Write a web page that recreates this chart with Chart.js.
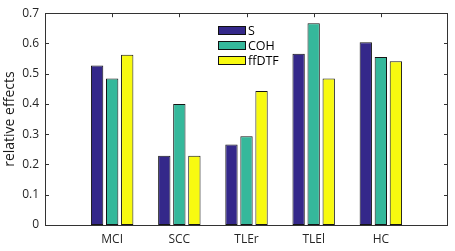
<!DOCTYPE html>
<html>
<head>
<meta charset="utf-8">
<script src="https://cdn.jsdelivr.net/npm/chart.js@4/dist/chart.umd.min.js"></script>
<style>
  html, body { margin: 0; padding: 0; background: #fff; }
  #wrap { position: relative; width: 455px; height: 251px; }
  #legend { position: absolute; left: 218px; top: 23px; font-family: "Open Sans", sans-serif; font-size: 12.5px; color: #000; }
  #legend .row { display: flex; align-items: center; height: 15px; }
  #legend .sw { width: 26px; height: 7px; border: 1px solid #111; margin-right: 2px; }
</style>
</head>
<body>
<div id="wrap">
  <canvas id="c" width="455" height="251"></canvas>
  <div id="legend"></div>
</div>
<script>
const categories = ['MCI', 'SCC', 'TLEr', 'TLEl', 'HC'];
const seriesNames = ['S', 'COH', 'ffDTF'];
const valuesS = [0.527, 0.229, 0.266, 0.566, 0.604];
const valuesCOH = [0.484, 0.400, 0.293, 0.667, 0.555];
const valuesFfDTF = [0.563, 0.229, 0.443, 0.484, 0.541];
const yTicks = [0, 0.1, 0.2, 0.3, 0.4, 0.5, 0.6, 0.7];
const colors = ['#34288a', '#35b89b', '#f8fa10'];

const labels = [''].concat(categories, ['']);
const pad = arr => [null].concat(arr, [null]);
const allValues = [valuesS, valuesCOH, valuesFfDTF];

const datasets = allValues.map((v, i) => ({
  label: seriesNames[i],
  data: pad(v),
  backgroundColor: colors[i],
  borderColor: '#151515',
  borderWidth: 1,
  borderSkipped: false,
  categoryPercentage: 0.672,
  barPercentage: 0.82
}));

const frame = {
  id: 'frame',
  afterDraw(chart) {
    const { ctx, chartArea: a, scales } = chart;
    ctx.save();
    ctx.strokeStyle = '#333';
    ctx.lineWidth = 1;
    ctx.strokeRect(Math.round(a.left) + 0.5, Math.round(a.top) + 0.5, Math.round(a.right - a.left) - 1, Math.round(a.bottom - a.top));
    ctx.beginPath();
    for (let i = 1; i <= categories.length; i++) {
      const x = Math.round(scales.x.getPixelForValue(i)) + 0.5;
      ctx.moveTo(x, a.top); ctx.lineTo(x, a.top + 4);
    }
    yTicks.forEach(t => {
      const y = Math.round(scales.y.getPixelForValue(t)) + 0.5;
      ctx.moveTo(a.left, y); ctx.lineTo(a.left + 4, y);
      ctx.moveTo(a.right, y); ctx.lineTo(a.right - 4, y);
    });
    ctx.stroke();
    ctx.restore();
  }
};

new Chart(document.getElementById('c'), {
  type: 'bar',
  data: { labels, datasets },
  plugins: [frame],
  options: {
    responsive: false,
    animation: false,
    layout: { padding: { top: 9, right: 3, left: 0, bottom: 0 } },
    plugins: { legend: { display: false }, tooltip: { enabled: false } },
    scales: {
      x: {
        offset: false,
        grid: { display: false, drawTicks: false },
        border: { display: false },
        ticks: {
          autoSkip: false, maxRotation: 0, padding: 7,
          color: '#262626',
          font: { family: 'Open Sans', size: 12 }
        },
        afterFit(s) { s.height = 26; }
      },
      y: {
        min: 0, max: 0.7,
        grid: { display: false, drawTicks: false },
        border: { display: false },
        afterBuildTicks(s) { s.ticks = yTicks.map(v => ({ value: v })); },
        ticks: {
          padding: 6,
          color: '#262626',
          font: { family: 'Open Sans', size: 12 },
          callback: v => (v === 0 ? '0' : v.toFixed(1))
        },
        title: {
          display: true, text: 'relative effects',
          color: '#1a1a1a',
          font: { family: 'Open Sans', size: 14 },
          padding: { top: 2, bottom: 0 }
        },
        afterFit(s) { s.width = 45; }
      }
    }
  }
});

const lg = document.getElementById('legend');
seriesNames.forEach((n, i) => {
  const row = document.createElement('div');
  row.className = 'row';
  const sw = document.createElement('span');
  sw.className = 'sw';
  sw.style.background = colors[i];
  const t = document.createElement('span');
  t.textContent = n;
  row.appendChild(sw); row.appendChild(t);
  lg.appendChild(row);
});
</script>
</body>
</html>
